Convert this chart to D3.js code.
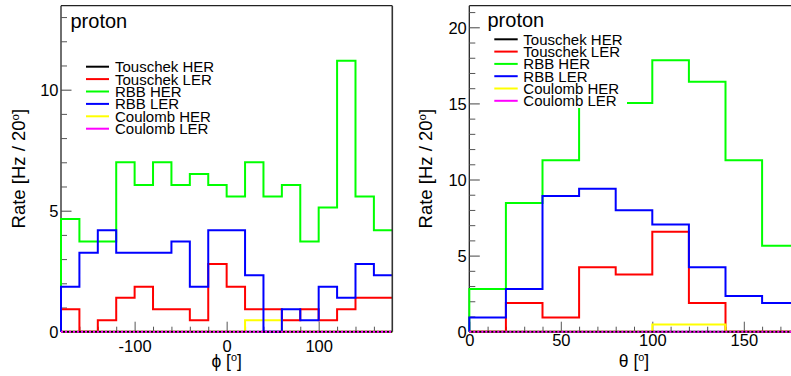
<!DOCTYPE html>
<html><head><meta charset="utf-8">
<script src="https://cdn.jsdelivr.net/npm/d3@7"></script>
<style>
body{margin:0;background:#fff}
svg{display:block}
text{font-family:"Liberation Sans",Arial,Helvetica,sans-serif;fill:#000}
</style>
</head><body>
<svg id="c" width="791" height="376"></svg>
<script>
// ---------- data ----------
const seriesNames = ["Touschek HER","Touschek LER","RBB HER","RBB LER","Coulomb HER","Coulomb LER"];
const seriesColors = ["#000000","#ff0000","#00ff00","#0000ff","#ffff00","#ff00ff"];

const phiEdges = [-180,-160,-140,-120,-100,-80,-60,-40,-20,0,20,40,60,80,100,120,140,160,180];
const phiTouschekHER = [0,0,0,0,0,0,0,0,0,0,0,0,0,0,0,0,0,0];
const phiTouschekLER = [0.93,0,0.47,1.40,1.86,0.93,0.93,0.47,2.80,1.86,0.93,0.93,0.47,0.93,0.47,0.93,1.40,1.40];
const phiRBBHER      = [4.66,3.73,3.73,7.00,6.06,7.00,6.06,6.52,6.06,5.59,7.00,5.59,6.06,3.73,5.13,11.20,5.59,4.19];
const phiRBBLER      = [1.86,3.26,4.19,3.26,3.26,3.26,3.73,1.86,4.19,4.19,2.33,0,0.93,0.47,1.86,1.40,2.80,2.33];
const phiCoulombHER  = [0,0,0,0,0,0,0,0,0,0,0.47,0.47,0,0,0,0,0,0];
const phiCoulombLER  = [0,0,0,0,0,0,0,0,0,0,0,0,0,0,0,0,0,0];

const thetaEdges = [0,20,40,60,80,100,120,140,160,180];
const thetaTouschekHER = [0,0,0,0,0,0,0,0,0];
const thetaTouschekLER = [0,1.88,0.94,4.23,3.76,6.57,1.88,0,0];
const thetaRBBHER      = [2.80,8.45,11.27,15.03,15.03,17.84,16.43,11.27,5.64];
const thetaRBBLER      = [0.94,2.80,8.92,9.39,7.98,7.04,4.23,2.35,1.88];
const thetaCoulombHER  = [0,0,0,0,0,0.47,0.47,0,0];
const thetaCoulombLER  = [0,0,0,0,0,0,0,0,0];

const phiMajorTicks = [-100,0,100];
const phiMinorTicks = [-160,-140,-120,-80,-60,-40,-20,20,40,60,80,120,140,160];
const phiYMajor = [0,5,10];
const phiYMinor = [1,2,3,4,6,7,8,9,11,12,13];
const thetaMajorTicks = [0,50,100,150];
const thetaMinorTicks = [10,20,30,40,60,70,80,90,110,120,130,140,160,170];
const thetaYMajor = [0,5,10,15,20];
const thetaYMinor = [1,2,3,4,6,7,8,9,11,12,13,14,16,17,18,19,21];

// ---------- drawing ----------
const svg = d3.select("#c");
svg.append("rect").attr("width",791).attr("height",376).attr("fill","#fff");

function supTitle(g, pre, post){
  g.append("tspan").text(pre);
  g.append("tspan").attr("font-size","0.62em").attr("dy","-0.55em").text("o");
  g.append("tspan").attr("dy","0.34em").text(post);
}

function panel(o){
  const g = svg.append("g");
  const x = d3.scaleLinear().domain(o.xDomain).range([o.x0,o.x1]);
  const y = d3.scaleLinear().domain([0,o.yMax]).range([o.yBot,o.yTop]);

  // frame left + top
  g.append("line").attr("x1",o.x0).attr("x2",o.x0).attr("y1",o.yTop).attr("y2",o.yBot).attr("stroke","#222").attr("stroke-width",1.3);
  g.append("line").attr("x1",o.x0).attr("x2",o.x1).attr("y1",o.yTop).attr("y2",o.yTop).attr("stroke","#222").attr("stroke-width",1.3);

  // axes ticks
  const ax = g.append("g").attr("transform",`translate(0,${o.yBot})`)
    .call(d3.axisBottom(x).tickValues(o.xMajor).tickSizeInner(-10).tickSizeOuter(0).tickFormat(d3.format("d")));
  ax.select(".domain").remove();
  ax.selectAll("line").attr("stroke","#555");
  ax.selectAll("text").attr("y",o.xLabelY).attr("dy",0).attr("font-size",16.5).text(d=>String(d).replace("\u2212","-"));
  const axm = g.append("g").attr("transform",`translate(0,${o.yBot})`)
    .call(d3.axisBottom(x).tickValues(o.xMinor).tickSizeInner(-5).tickSizeOuter(0).tickFormat(""));
  axm.select(".domain").remove();
  axm.selectAll("line").attr("stroke","#555");

  const ay = g.append("g").attr("transform",`translate(${o.x0},0)`)
    .call(d3.axisLeft(y).tickValues(o.yMajor).tickSizeInner(-10.5).tickSizeOuter(0).tickPadding(0).tickFormat(d3.format("d")));
  ay.select(".domain").remove();
  ay.selectAll("line").attr("stroke","#444");
  ay.selectAll("text").attr("x",-2.5).attr("font-size",16.5).attr("dy","0.36em").attr("text-anchor","end");
  const aym = g.append("g").attr("transform",`translate(${o.x0},0)`)
    .call(d3.axisLeft(y).tickValues(o.yMinor).tickSizeInner(-6).tickSizeOuter(0).tickFormat(""));
  aym.select(".domain").remove();
  aym.selectAll("line").attr("stroke","#555");

  // histograms
  const line = d3.line().x(d=>x(d[0])).y(d=>y(d[1]));
  function steps(vals){
    const pts=[[o.edges[0],0]];
    vals.forEach((v,i)=>{pts.push([o.edges[i],v]);pts.push([o.edges[i+1],v]);});
    return pts;
  }
  const order = [1,2,4,3,0,5];
  order.forEach(k=>{
    const p = g.append("path").attr("d",line(steps(o.series[k]))).attr("fill","none")
      .attr("stroke",seriesColors[k]).attr("stroke-width",2);
    if(k===5) p.attr("stroke-dasharray","2,2");
  });

  // right frame
  g.append("line").attr("x1",o.x1).attr("x2",o.x1).attr("y1",o.yTop).attr("y2",o.yBot).attr("stroke","#333").attr("stroke-width",1.6);

  // legend
  const L = o.legend;
  g.append("rect").attr("x",L.bx).attr("y",L.by).attr("width",L.bw).attr("height",L.bh).attr("fill","#fff");
  seriesNames.forEach((nm,i)=>{
    const ry = L.row0 + L.dy*i;
    g.append("line").attr("x1",L.lx0).attr("x2",L.lx1).attr("y1",ry).attr("y2",ry)
      .attr("stroke",seriesColors[i]).attr("stroke-width",2);
    g.append("text").attr("x",L.tx).attr("y",ry).attr("dy","0.36em").attr("font-size",15).text(nm);
  });
  g.append("text").attr("x",o.protonX).attr("y",o.protonY).attr("font-size",20).text("proton");

  // titles
  const xt = g.append("text").attr("x",(o.x0+o.x1)/2).attr("y",o.xTitleY).attr("text-anchor","middle").attr("font-size",17.5);
  supTitle(xt, o.xSym+" [", "]");
  const yt = g.append("text").attr("transform",`translate(${o.yTitleX},${(o.yTop+o.yBot)/2}) rotate(-90)`)
    .attr("text-anchor","middle").attr("font-size",18.5);
  supTitle(yt, "Rate [Hz / 20", "]");
}

panel({
  x0:61, x1:392.3, yTop:5.7, yBot:331.7, xDomain:[-180,180], yMax:13.47,
  edges:phiEdges,
  series:[phiTouschekHER,phiTouschekLER,phiRBBHER,phiRBBLER,phiCoulombHER,phiCoulombLER],
  xMajor:phiMajorTicks, xMinor:phiMinorTicks, yMajor:phiYMajor, yMinor:phiYMinor,
  xLabelY:20, xTitleY:367, yTitleX:25, xSym:"\u03D5",
  legend:{bx:76,by:58,bw:150,bh:78,row0:66.7,dy:12.4,lx0:86,lx1:109,tx:115},
  protonX:70.5, protonY:28
});
panel({
  x0:469.3, x1:798.7, yTop:5.7, yBot:331.7, xDomain:[0,180], yMax:21.42,
  edges:thetaEdges,
  series:[thetaTouschekHER,thetaTouschekLER,thetaRBBHER,thetaRBBLER,thetaCoulombHER,thetaCoulombLER],
  xMajor:thetaMajorTicks, xMinor:thetaMinorTicks, yMajor:thetaYMajor, yMinor:thetaYMinor,
  xLabelY:14, xTitleY:367, yTitleX:432, xSym:"\u03B8",
  legend:{bx:484,by:32,bw:143,bh:76,row0:39.3,dy:12.3,lx0:494.3,lx1:517.7,tx:523.3},
  protonX:487.5, protonY:27
});
</script>
</body></html>
